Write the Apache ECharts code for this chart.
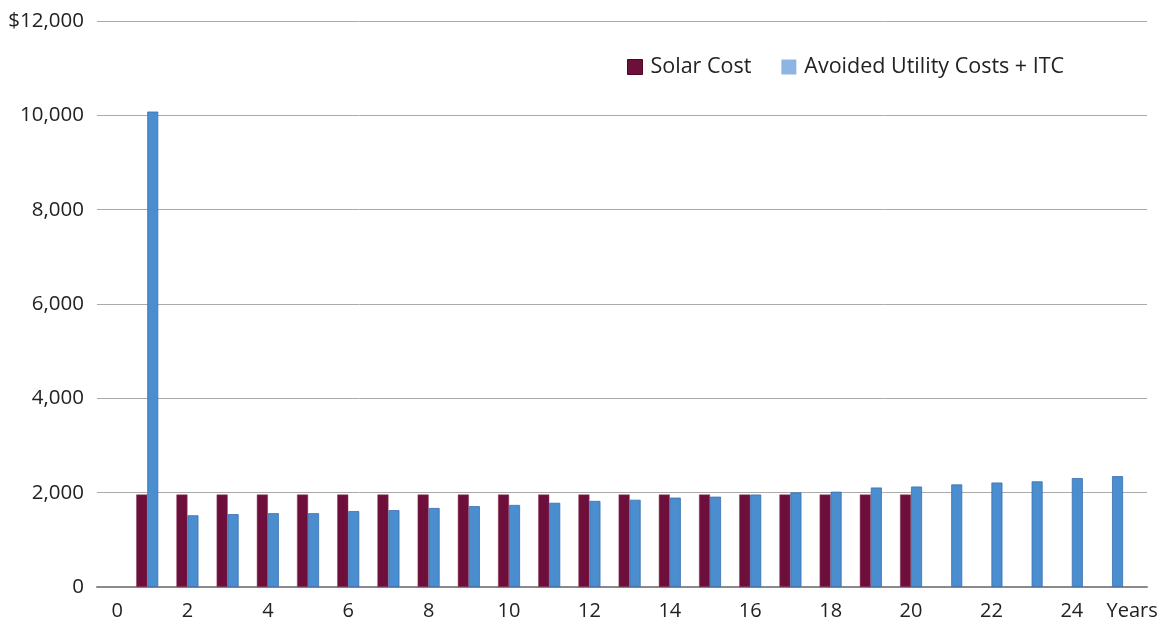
<!DOCTYPE html>
<html>
<head>
<meta charset="utf-8">
<script src="https://cdn.jsdelivr.net/npm/echarts@6/dist/echarts.min.js"></script>
<style>
  html, body { margin: 0; padding: 0; background: #fff; }
  #chart { width: 1165px; height: 627px; }
</style>
</head>
<body>
<div id="chart"></div>
<script>
// year of each bar pair
const years = [1, 2, 3, 4, 5, 6, 7, 8, 9, 10, 11, 12, 13, 14, 15, 16, 17, 18, 19, 20, 21, 22, 23, 24, 25];
// solar cost, years 1-20
const solarCost = [1960, 1960, 1960, 1960, 1960, 1960, 1960, 1960, 1960, 1960,
                   1960, 1960, 1960, 1960, 1960, 1960, 1960, 1960, 1960, 1960];
// avoided utility costs + ITC, years 1-25
const avoided = [10080, 1520, 1545, 1565, 1565, 1610, 1630, 1675, 1715, 1740,
                 1785, 1825, 1850, 1895, 1915, 1960, 2005, 2020, 2110, 2130,
                 2175, 2215, 2240, 2310, 2350];
// x tick labels (position -> text)
const xTicks = [0.25, 2, 4, 6, 8, 10, 12, 14, 16, 18, 20, 22, 24, 25.5];
const xTickText = ['0', '2', '4', '6', '8', '10', '12', '14', '16', '18', '20', '22', '24', 'Years'];

const font = '"Open Sans", "Noto Sans", sans-serif';

let chart = echarts.init(document.getElementById('chart'));

let option = {
  animation: false,
  textStyle: { fontFamily: font },
  grid: { left: 97, right: 18, top: 21, bottom: 40 },
  legend: {
    left: 622,
    top: 51,
    itemWidth: 15,
    itemHeight: 15,
    itemGap: 30,
    icon: 'rect',
    textStyle: { fontSize: 21.5, lineHeight: 22, color: '#222', fontFamily: font, padding: [0, 0, 0, 3] },
    data: [
      { name: 'Solar Cost', itemStyle: { color: '#6e0f3b', borderColor: '#4a0a27', borderWidth: 1 } },
      { name: 'Avoided Utility Costs + ITC', itemStyle: { color: '#8db4e2', borderWidth: 0 } }
    ]
  },
  xAxis: {
    type: 'value',
    min: -0.25,
    max: 25.87,
    splitLine: { show: false },
    axisTick: { show: false },
    axisLine: { show: true, onZero: false, lineStyle: { color: '#8a8a8a', width: 2 } },
    axisLabel: {
      customValues: xTicks,
      fontSize: 20,
      color: '#222',
      margin: 14,
      fontFamily: font,
      formatter: function (v) {
        let i = xTicks.indexOf(v);
        return i >= 0 ? xTickText[i] : '';
      }
    }
  },
  yAxis: {
    type: 'value',
    min: 0,
    max: 12000,
    interval: 2000,
    axisLine: { show: false },
    axisTick: { show: false },
    splitLine: { lineStyle: { color: '#aaaaaa', width: 1 } },
    axisLabel: {
      fontSize: 20.5,
      color: '#222',
      margin: 13,
      fontFamily: font,
      formatter: function (v) {
        let s = v.toLocaleString('en-US');
        return v === 12000 ? '$' + s : s;
      }
    }
  },
  series: [
    {
      name: 'Solar Cost',
      type: 'bar',
      barWidth: 11,
      barGap: '0%',
      itemStyle: { color: '#6e0f3b', borderColor: '#8a3a5c', borderWidth: 0.5 },
      data: solarCost.map((v, i) => [years[i], v])
    },
    {
      name: 'Avoided Utility Costs + ITC',
      type: 'bar',
      barWidth: 11,
      barGap: '0%',
      itemStyle: { color: '#4a8ecf', borderColor: '#3a6fb0', borderWidth: 0.8 },
      data: avoided.map((v, i) => [years[i], v])
    }
  ]
};

chart.setOption(option);
</script>
</body>
</html>
